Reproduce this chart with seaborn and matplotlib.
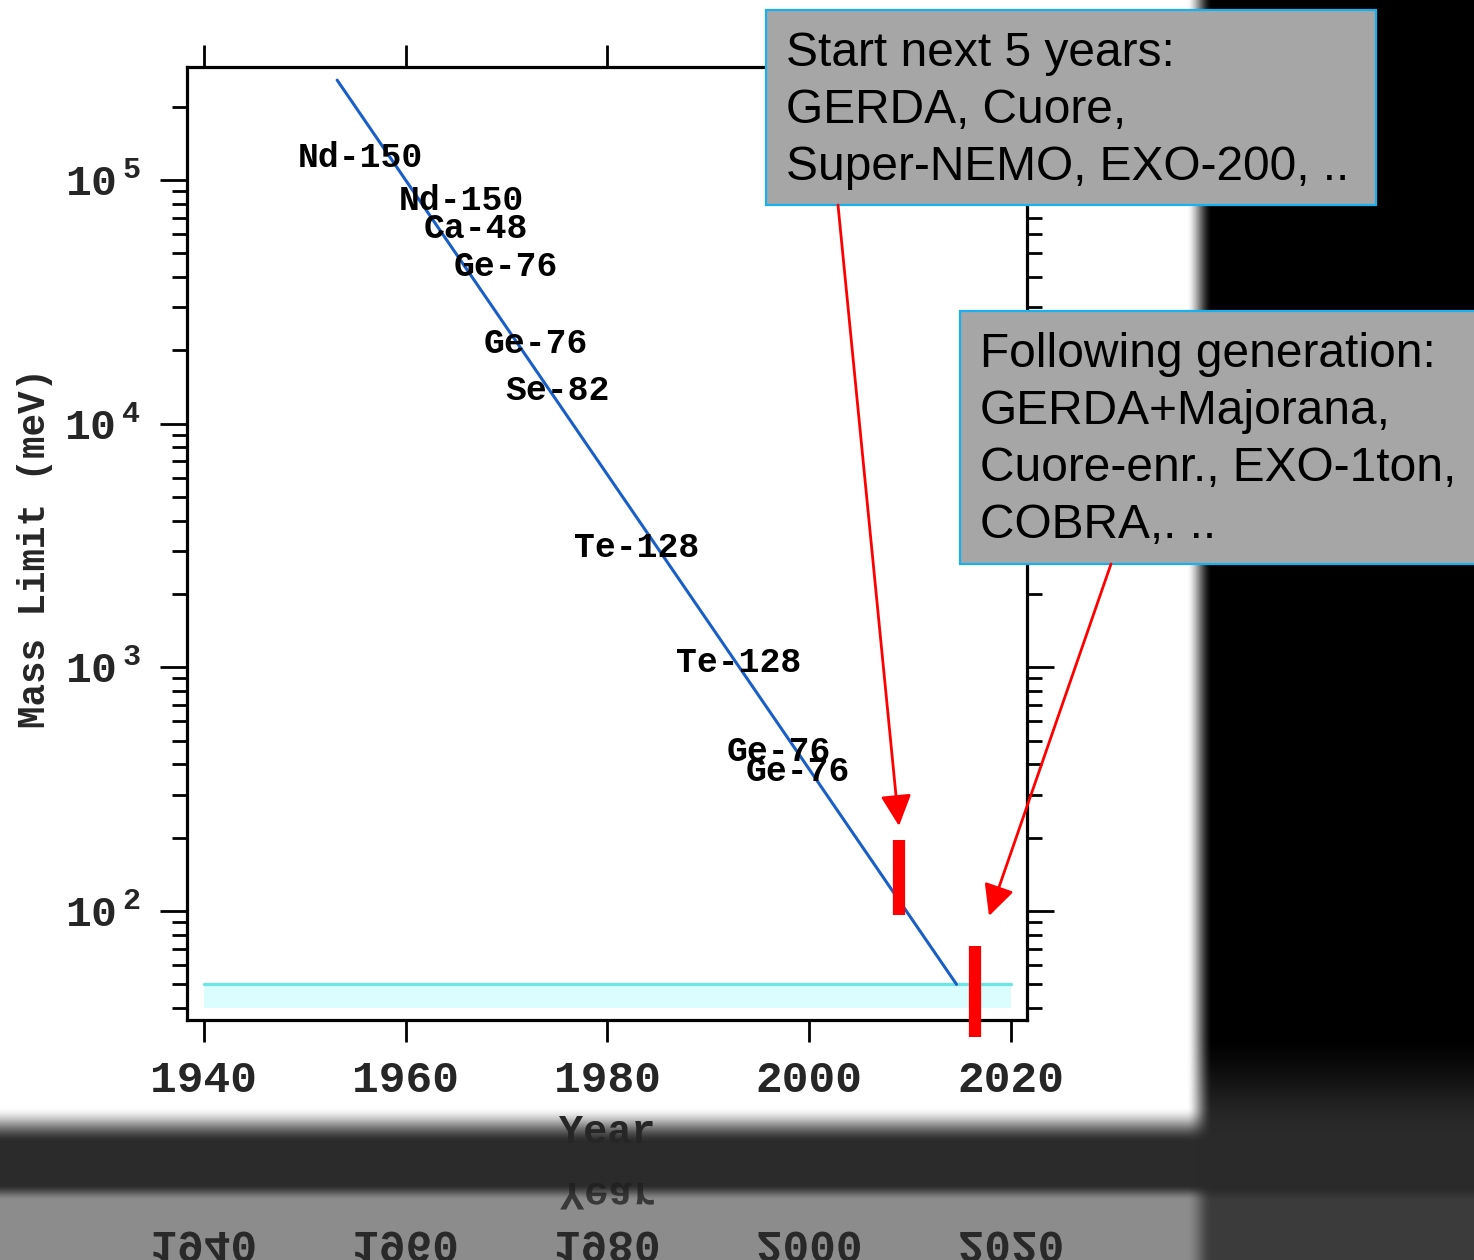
import numpy as np
import pandas as pd
import matplotlib
matplotlib.use("Agg")
import matplotlib.pyplot as plt
import seaborn as sns
from matplotlib.textpath import TextPath
from matplotlib.font_manager import FontProperties
from matplotlib.patches import PathPatch, Rectangle
from matplotlib.ticker import FixedLocator, FixedFormatter, NullLocator, LogLocator
from matplotlib.transforms import Affine2D

# ---------------- data ----------------
trend_years = [1953.2, 2014.6]
trend_limits = [2.57e5, 50.0]

iso_labels = ["Nd-150", "Nd-150", "Ca-48", "Ge-76", "Ge-76", "Se-82",
              "Te-128", "Te-128", "Ge-76", "Ge-76"]
iso_years = [1949.3, 1959.3, 1961.8, 1964.7, 1967.75, 1969.9,
             1976.7, 1986.8, 1991.8, 1993.7]
iso_limits = [1.24e5, 8.2e4, 6.3e4, 4.4e4, 2.14e4, 1.37e4,
              3.1e3, 1045, 452, 374]

band_years = [1940, 2020]
band_low = [40, 40]
band_high = [50, 50]

next_gen_year = 2008.9
next_gen_range = [96, 195]
following_year = 2016.4
following_range = [30.4, 71.8]

x_ticks = [1940, 1960, 1980, 2000, 2020]
x_tick_labels = ["1940", "1960", "1980", "2000", "2020"]
y_ticks = [1e2, 1e3, 1e4, 1e5]
y_tick_labels = [r"$\mathregular{10^{\,2}}$", r"$\mathregular{10^{\,3}}$",
                 r"$\mathregular{10^{\,4}}$", r"$\mathregular{10^{\,5}}$"]

box1_text = "Start next 5 years:\nGERDA, Cuore,\nSuper-NEMO, EXO-200, .."
box2_text = "Following generation:\nGERDA+Majorana,\nCuore-enr., EXO-1ton,\nCOBRA,. .."

# ---------------- style ----------------
sns.set_style("ticks")
plt.rcParams["font.family"] = ["Liberation Mono", "DejaVu Sans Mono"]
plt.rcParams["font.weight"] = "bold"

W, H = 1474, 1260
fig = plt.figure(figsize=(W / 100, H / 100), dpi=100)

# background (slide with shadow / reflection)
yy = np.arange(H)[:, None].astype(float)
xx = np.arange(W)[None, :].astype(float)


def ramp(v, a, b):
    t = np.clip((v - a) / (b - a), 0, 1)
    return t * t * (3 - 2 * t)


left = 1.0 - 0.83 * ramp(yy, 1106, 1142) + 0.38 * ramp(yy, 1184, 1200)
right = 0.165 * ramp(yy, 1030, 1135) + 0.07 * ramp(yy, 1186, 1202)
wx = ramp(xx, 1186, 1212)
gray = left * (1 - wx) + right * wx
bg_img = np.dstack([gray, gray, gray])
ax_bg = fig.add_axes([0, 0, 1, 1], zorder=0)
ax_bg.imshow(bg_img, extent=(0, W, H, 0), aspect="auto", interpolation="bilinear")
ax_bg.set_xlim(0, W)
ax_bg.set_ylim(H, 0)
ax_bg.axis("off")

# main axes
ax = fig.add_axes([187 / W, 1 - 1020 / H, 840 / W, 953 / H], zorder=1)
ax.set_facecolor("white")

ax.fill_between(band_years, band_low, band_high, color="#dcfdfd", lw=0, zorder=1)
ax.plot(band_years, band_high, color="#6fe6e6", lw=2.4, zorder=2)

trend_df = pd.DataFrame({"year": trend_years, "limit": trend_limits})
sns.lineplot(data=trend_df, x="year", y="limit", ax=ax, color="#1a5fc8", lw=2.2, zorder=3)

ax.set_yscale("log")
ax.set_xlim(1938.315, 2021.586)
ax.set_ylim(35.7, 2.909e5)

for lab, yr, lim in zip(iso_labels, iso_years, iso_limits):
    ax.text(yr, lim, lab, fontsize=25, fontweight="bold", ha="left", va="center",
            color="black", zorder=4)

ax.plot([next_gen_year, next_gen_year], next_gen_range, color="red", lw=8.8,
        solid_capstyle="butt", clip_on=False, zorder=5)
ax.plot([following_year, following_year], following_range, color="red", lw=8.8,
        solid_capstyle="butt", clip_on=False, zorder=5)

ax.xaxis.set_major_locator(FixedLocator(x_ticks))
ax.xaxis.set_major_formatter(FixedFormatter(x_tick_labels))
ax.xaxis.set_minor_locator(NullLocator())
ax.yaxis.set_major_locator(FixedLocator(y_ticks))
ax.yaxis.set_major_formatter(FixedFormatter(y_tick_labels))
ax.yaxis.set_minor_locator(LogLocator(base=10, subs=np.arange(2, 10)))
ax.yaxis.set_minor_formatter(FixedFormatter([]))

for s in ax.spines.values():
    s.set_linewidth(2.3)
    s.set_color("black")
    s.set_visible(True)

ax.tick_params(which="both", direction="out", top=True, right=True,
               labeltop=False, labelright=False, color="black")
ax.tick_params(axis="x", which="major", length=16, width=2.0, pad=13, labelsize=32)
ax.tick_params(axis="y", which="major", length=19.5, width=2.0, pad=14, labelsize=31)
ax.tick_params(axis="y", which="minor", length=10.5, width=2.0)
for lab in ax.get_xticklabels() + ax.get_yticklabels():
    lab.set_fontweight("bold")

ax.set_xlabel("Year", fontsize=29, fontweight="bold")
ax.xaxis.set_label_coords(0.5, -0.098)
ax.set_ylabel("Mass Limit (meV)", fontsize=27, fontweight="bold", va="center")
ax.yaxis.set_label_coords(-0.181, 0.495)

# overlay in pixel coordinates
ax_o = fig.add_axes([0, 0, 1, 1], zorder=5)
ax_o.set_xlim(0, W)
ax_o.set_ylim(H, 0)
ax_o.axis("off")
ax_o.patch.set_alpha(0)

ax_o.add_patch(Rectangle((766, 10), 610, 195, fc="#a6a6a6", ec="#18b0ee", lw=1.6))
ax_o.text(786, 31, box1_text, fontsize=34.5, family="Liberation Sans", fontweight="normal",
          va="top", ha="left", linespacing=1.34, color="black")
ax_o.add_patch(Rectangle((960, 311), 540, 253, fc="#a6a6a6", ec="#18b0ee", lw=1.6))
ax_o.text(980, 332, box2_text, fontsize=34.5, family="Liberation Sans", fontweight="normal",
          va="top", ha="left", linespacing=1.34, color="black")

arrow_style = dict(arrowstyle="-|>,head_length=0.95,head_width=0.47", color="red",
                   lw=2.0, mutation_scale=20, shrinkA=0, shrinkB=0)
ax_o.annotate("", xy=(899, 826), xytext=(838, 205), arrowprops=arrow_style)
ax_o.annotate("", xy=(989, 916), xytext=(1111, 564), arrowprops=arrow_style)

# reflection of tick labels and x label
fp = FontProperties(family="Liberation Mono", weight="bold")
fig.canvas.draw()


def reflected(text, xc, top, size_pt, alpha):
    tp = TextPath((0, 0), text, size=size_pt * 100 / 72, prop=fp)
    ext = tp.get_extents()
    tr = Affine2D().translate(xc - (ext.x0 + ext.x1) / 2, top)
    patch = PathPatch(tr.transform_path(tp), fc="#1e1e1e", ec="none", alpha=alpha)
    ax_o.add_patch(patch)


for tv, tl in zip(x_ticks, x_tick_labels):
    xc = ax.transData.transform((tv, 100))[0]
    reflected(tl, xc, 1232, 32, 0.9)
xc_year = ax.transAxes.transform((0.5, 0))[0]
reflected("Year", xc_year, 1183, 29, 0.75)

fig.savefig("out.png", dpi=100)
